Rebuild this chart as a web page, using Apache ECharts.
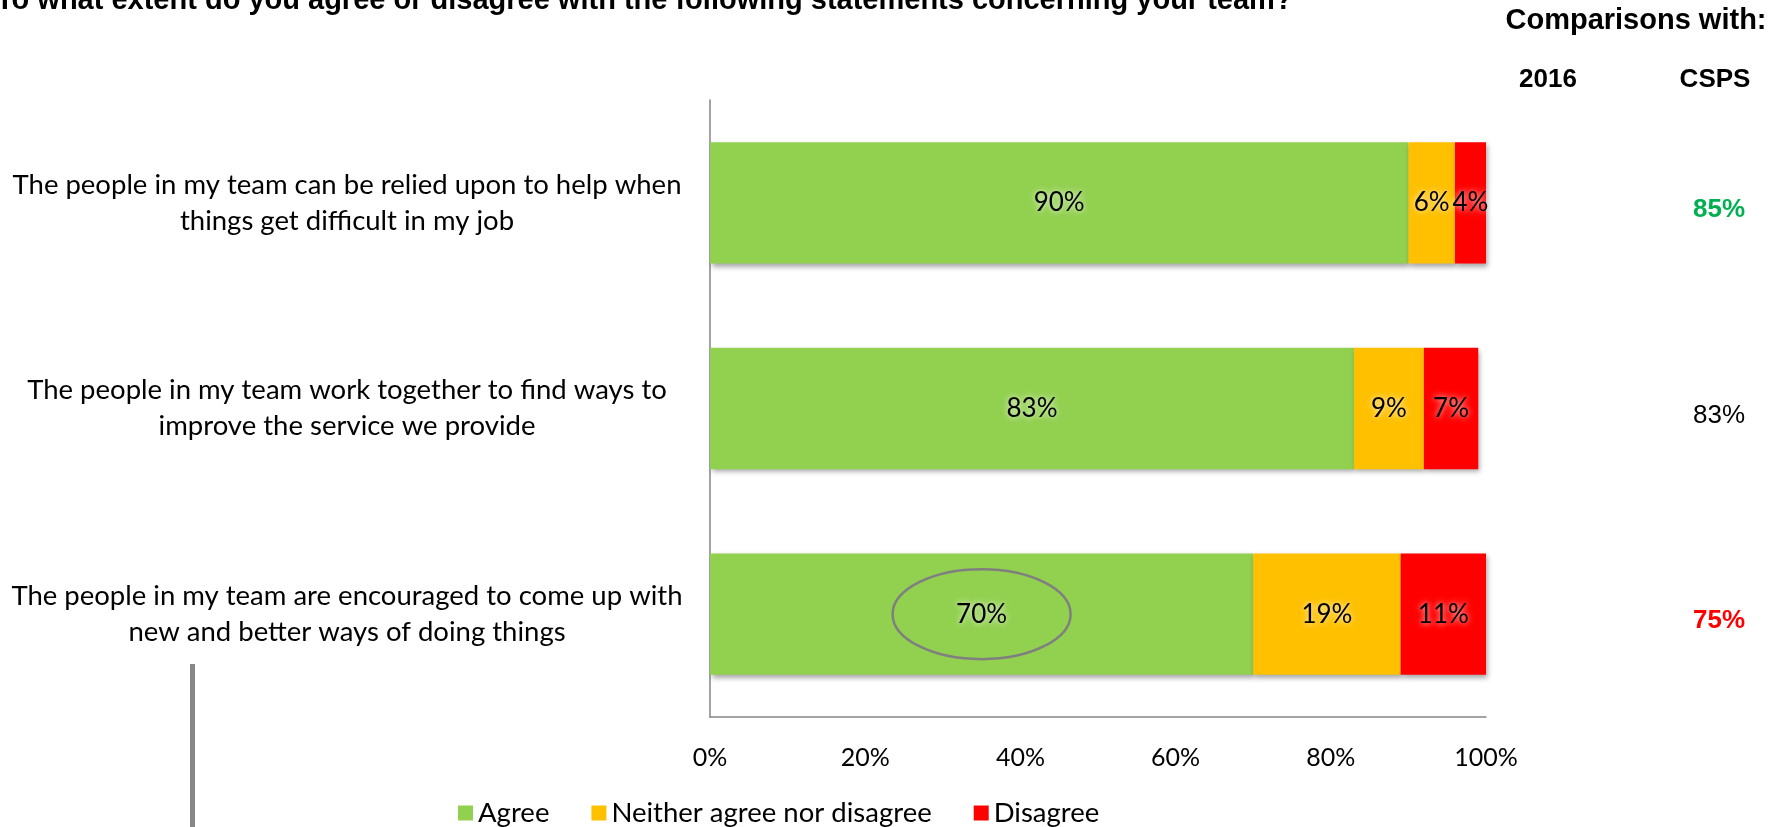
<!DOCTYPE html>
<html>
<head>
<meta charset="utf-8">
<script src="https://cdn.jsdelivr.net/npm/echarts@6/dist/echarts.min.js"></script>
<style>
  html, body { margin: 0; padding: 0; background: #fff; }
  #chart { width: 1776px; height: 827px; }
</style>
</head>
<body>
<div id="chart"></div>
<script>
// Team statements (top to bottom)
const categories = [
  'The people in my team can be relied upon to help when\nthings get difficult in my job',
  'The people in my team work together to find ways to\nimprove the service we provide',
  'The people in my team are encouraged to come up with\nnew and better ways of doing things'
];
const seriesNames = ['Agree', 'Neither agree nor disagree', 'Disagree'];
const agree = [90, 83, 70];
const neither = [6, 9, 19];
const disagree = [4, 7, 11];
// CSPS benchmark (% agree)
const csps = [85, 83, 75];
const xTickValues = [0, 20, 40, 60, 80, 100];

const BODY_FONT = 'Lato, "Open Sans", sans-serif';
const HEAD_FONT = '"Liberation Sans", Arial, sans-serif';
const colors = { agree: '#92D050', neither: '#FFC000', disagree: '#FF0000' };

// Colour of a benchmark figure: green when our score is clearly above it, red when clearly below
function cspsStyle(i) {
  const diff = agree[i] - csps[i];
  if (diff >= 3) return 'up';
  if (diff <= -3) return 'down';
  return 'same';
}

const chart = echarts.init(document.getElementById('chart'));

const labelStyle = {
  show: true,
  position: 'inside',
  formatter: '{c}%',
  color: '#000',
  fontFamily: BODY_FONT,
  fontSize: 26,
  textShadowColor: 'rgba(255,255,255,0.95)',
  textShadowBlur: 6
};
const barShadow = {
  shadowColor: 'rgba(0,0,0,0.35)',
  shadowBlur: 5,
  shadowOffsetX: 2,
  shadowOffsetY: 3
};

function barSeries(name, data, color) {
  return {
    name: name,
    type: 'bar',
    stack: 'total',
    data: data,
    barCategoryGap: '41%',
    itemStyle: Object.assign({ color: color }, barShadow),
    label: labelStyle,
    emphasis: { disabled: true },
    animation: false
  };
}

chart.setOption({
  animation: false,
  grid: { left: 710, right: 290, top: 100, bottom: 110, containLabel: false },
  legend: {
    data: seriesNames,
    icon: 'rect',
    itemWidth: 15,
    itemHeight: 15,
    itemGap: 42,
    left: 453,
    top: 794,
    textStyle: { fontFamily: BODY_FONT, fontSize: 27.5, color: '#000' }
  },
  xAxis: {
    type: 'value',
    min: 0,
    max: 100,
    interval: 20,
    axisLine: { show: true, lineStyle: { color: '#868686', width: 1.5 } },
    axisTick: { show: false },
    splitLine: { show: false },
    axisLabel: {
      formatter: v => xTickValues.includes(v) ? v + '%' : '',
      margin: 28,
      fontFamily: BODY_FONT,
      fontSize: 25,
      color: '#000'
    }
  },
  yAxis: [
    {
      type: 'category',
      data: categories,
      inverse: true,
      axisLine: { show: true, lineStyle: { color: '#868686', width: 1.5 } },
      axisTick: { show: false },
      axisLabel: {
        align: 'center',
        margin: 363,
        fontFamily: BODY_FONT,
        fontSize: 27.5,
        lineHeight: 36,
        color: '#000'
      }
    },
    {
      type: 'category',
      data: categories,
      inverse: true,
      position: 'right',
      axisLine: { show: false },
      axisTick: { show: false },
      axisLabel: {
        align: 'center',
        margin: 233,
        padding: [14, 0, 0, 0],
        formatter: (v, i) => '{' + cspsStyle(i) + '|' + csps[i] + '%}',
        rich: {
          up: { fontFamily: HEAD_FONT, fontSize: 26, fontWeight: 'bold', color: '#00B050' },
          down: { fontFamily: HEAD_FONT, fontSize: 26, fontWeight: 'bold', color: '#FF0000' },
          same: { fontFamily: HEAD_FONT, fontSize: 26, color: '#000' }
        }
      }
    }
  ],
  series: [
    barSeries(seriesNames[0], agree, colors.agree),
    barSeries(seriesNames[1], neither, colors.neither),
    barSeries(seriesNames[2], disagree, colors.disagree)
  ]
});

// Highlight ring around the lowest "Agree" score, centred on its label
const lowIdx = agree.indexOf(Math.min.apply(null, agree));
const ringCenter = chart.convertToPixel({ gridIndex: 0 }, [agree[lowIdx] / 2, lowIdx]);

chart.setOption({
  graphic: [
    {
      type: 'text',
      left: -4,
      top: -14,
      style: {
        text: 'To what extent do you agree or disagree with the following statements concerning your team?',
        font: 'bold 29px ' + HEAD_FONT,
        fill: '#000'
      }
    },
    {
      type: 'text',
      x: 1636, y: 21,
      style: { text: 'Comparisons with:', font: 'bold 29px ' + HEAD_FONT, fill: '#000', align: 'center', verticalAlign: 'middle' }
    },
    {
      type: 'text',
      x: 1548, y: 80,
      style: { text: '2016', font: 'bold 26px ' + HEAD_FONT, fill: '#000', align: 'center', verticalAlign: 'middle' }
    },
    {
      type: 'text',
      x: 1715, y: 80,
      style: { text: 'CSPS', font: 'bold 26px ' + HEAD_FONT, fill: '#000', align: 'center', verticalAlign: 'middle' }
    },
    {
      type: 'ellipse',
      shape: { cx: ringCenter[0], cy: ringCenter[1], rx: 89, ry: 45 },
      style: { fill: 'none', stroke: '#7F7F7F', lineWidth: 2.5 },
      z: 10
    },
    {
      type: 'rect',
      shape: { x: 190, y: 664, width: 5, height: 163 },
      style: { fill: '#878787' }
    }
  ]
});
</script>
</body>
</html>
